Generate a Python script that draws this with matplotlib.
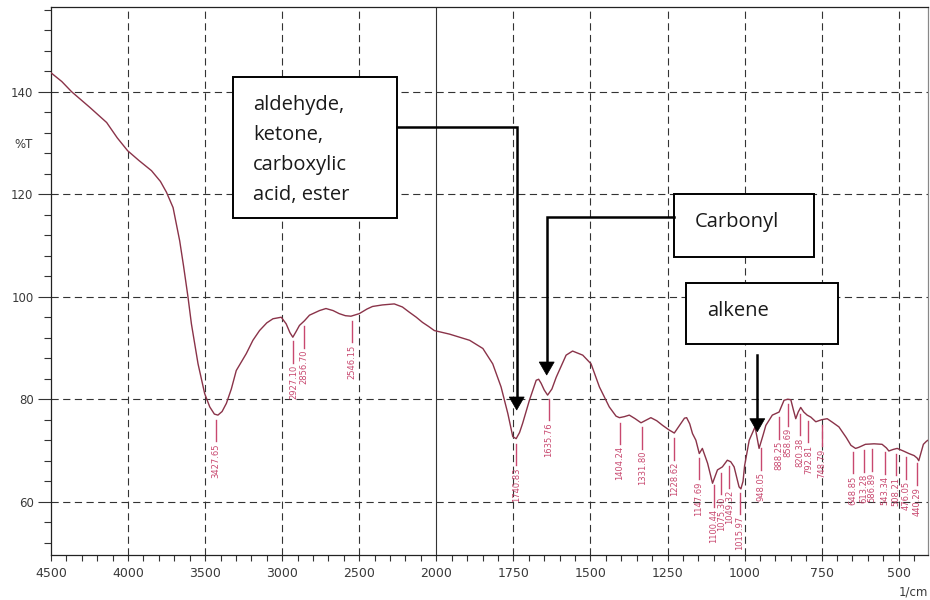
import numpy as np
import matplotlib
matplotlib.use("Agg")
import matplotlib.pyplot as plt
from matplotlib.patches import Rectangle, Polygon
from matplotlib.lines import Line2D
from matplotlib.ticker import FixedLocator, NullFormatter

# ---------------- data ----------------
wavenumber = [4500, 4430, 4366, 4250, 4139, 4070, 4003, 3930, 3848, 3790, 3751, 3708,
              3665, 3640, 3611, 3589, 3546, 3503, 3470, 3440, 3417, 3390, 3362, 3330,
              3298, 3233, 3190, 3147, 3100, 3060, 3006, 2974, 2950, 2931, 2910, 2888,
              2856, 2823, 2758, 2716, 2670, 2630, 2590, 2554, 2500, 2450, 2414, 2350,
              2273, 2220, 2176, 2130, 2090, 2050, 2013, 1957, 1892, 1849, 1817, 1790,
              1768, 1752, 1741, 1730, 1720, 1698, 1676, 1668, 1660, 1650, 1639, 1625,
              1611, 1579, 1558, 1525, 1498, 1471, 1439, 1417, 1406, 1390, 1374, 1355,
              1336, 1320, 1304, 1285, 1266, 1245, 1228, 1210, 1195, 1188, 1178, 1169,
              1158, 1147, 1137, 1120, 1104, 1088, 1072, 1056, 1045, 1034, 1018, 1012,
              1005, 1000, 985, 966, 953, 940, 931, 910, 888, 872, 860, 850, 842, 834,
              826, 818, 808, 797, 785, 769, 750, 732, 715, 694, 670, 655, 640, 630,
              608, 580, 554, 540, 532, 518, 505, 485, 467, 450, 440, 435, 428, 420,
              410, 405]
transmittance = [143.7, 142.0, 140.0, 137.0, 134.0, 131.0, 128.5, 126.6, 124.6, 122.5, 120.4, 117.4,
                 110.9, 106.0, 99.9, 94.7, 86.9, 81.1, 78.5, 77.1, 76.9, 77.6, 79.2, 82.0,
                 85.6, 88.9, 91.5, 93.4, 94.9, 95.7, 96.0, 94.7, 93.0, 92.1, 93.2, 94.4,
                 95.3, 96.4, 97.3, 97.7, 97.3, 96.7, 96.3, 96.2, 96.7, 97.6, 98.1, 98.4,
                 98.6, 98.0, 97.0, 96.0, 95.0, 94.2, 93.4, 92.7, 91.5, 89.9, 86.9, 82.4,
                 77.2, 72.7, 72.3, 73.5, 75.3, 79.8, 83.7, 83.9, 83.1, 81.8, 80.8, 82.0,
                 84.3, 88.6, 89.4, 88.6, 86.9, 82.4, 78.5, 76.7, 76.4, 76.6, 76.9, 76.2,
                 75.4, 75.9, 76.4, 75.8, 74.9, 74.0, 73.4, 75.0, 76.3, 76.4, 75.2, 73.3,
                 72.0, 69.4, 70.4, 67.5, 63.6, 66.2, 66.8, 68.1, 67.8, 66.8, 62.9, 62.5,
                 64.0, 67.0, 72.0, 74.6, 70.4, 73.0, 74.9, 76.9, 77.5, 79.8, 80.0, 79.9, 78.0, 76.2,
                 77.5, 78.4, 77.5, 76.9, 76.5, 75.6, 76.0, 76.2, 75.5, 74.6, 72.5, 71.0, 70.4, 70.6,
                 71.2, 71.3, 71.2, 70.5, 69.9, 70.2, 70.4, 69.9, 69.4, 69.0, 68.5, 68.0, 69.5, 71.2,
                 71.8, 72.0]

peak_wavenumbers = [3427.65, 2927.10, 2856.70, 2546.15, 1740.83, 1635.76, 1404.24, 1331.80,
                    1228.62, 1147.69, 1100.44, 1075.30, 1049.32, 1015.97, 948.05, 888.25,
                    858.69, 820.38, 792.81, 748.79, 648.85, 613.28, 586.89, 543.34,
                    508.21, 476.05, 440.29]
peak_labels = ["3427.65", "2927.10", "2856.70", "2546.15", "1740.83", "1635.76", "1404.24", "1331.80",
               "1228.62", "1147.69", "1100.44", "1075.30", "1049.32", "1015.97", "948.05", "888.25",
               "858.69", "820.38", "792.81", "748.79", "648.85", "613.28", "586.89", "543.34",
               "508.21", "476.05", "440.29"]

x_major_ticks = [4500, 4000, 3500, 3000, 2500, 2000, 1750, 1500, 1250, 1000, 750, 500]
x_grid_dashed = [4000, 3500, 3000, 2500, 1750, 1500, 1250, 1000, 750, 500]
y_major_ticks = [60, 80, 100, 120, 140]

box_group_text = ["aldehyde,", "ketone,", "carboxylic", "acid, ester"]
box_carbonyl_text = "Carbonyl"
box_alkene_text = "alkene"

# ---------------- styling ----------------
W, H = 930, 600
CURVE = "#8a3349"
PEAK = "#c8486f"
TXT = "#3a3a3a"


def fwd(w):
    w = np.asarray(w, dtype=float)
    return np.where(w > 2000, 2000 + (w - 2000) / 2.0, w)


def inv(u):
    u = np.asarray(u, dtype=float)
    return np.where(u > 2000, 2000 + (u - 2000) * 2.0, u)


def P(px, py):
    return (px / W, 1 - py / H)


fig = plt.figure(figsize=(W / 100, H / 100), dpi=100)
fig.patch.set_facecolor("white")
ax = fig.add_axes([51 / W, 1 - 555 / H, 877 / W, 548.3 / H])
ax.set_xscale("function", functions=(fwd, inv))
ax.set_xlim(4500, 405)
ax.set_ylim(49.6, 156.6)

# ticks
ax.xaxis.set_major_locator(FixedLocator(x_major_ticks))
ax.set_xticklabels([str(t) for t in x_major_ticks])
x_minor = [w for w in range(4400, 2000, -100) if w % 500] + [w for w in range(1950, 400, -50) if w % 250]
ax.xaxis.set_minor_locator(FixedLocator(x_minor))
ax.xaxis.set_minor_formatter(NullFormatter())
ax.yaxis.set_major_locator(FixedLocator(y_major_ticks))
y_minor = [v for v in range(52, 157, 4) if v % 20]
ax.yaxis.set_minor_locator(FixedLocator(y_minor))
ax.yaxis.set_minor_formatter(NullFormatter())

ax.tick_params(axis="x", which="both", direction="out", length=4.3, width=0.8,
               color="#333333", labelsize=9, labelcolor=TXT, pad=4)
ax.tick_params(axis="y", which="major", direction="out", length=9.4, width=0.8,
               color="#333333", labelsize=8.5, labelcolor=TXT, pad=3.2)
ax.tick_params(axis="y", which="minor", direction="out", length=5.4, width=0.8, color="#333333")
ax.tick_params(top=False, right=False)

for s in ["left", "bottom", "top"]:
    ax.spines[s].set_color("#222222")
    ax.spines[s].set_linewidth(0.9)
ax.spines["right"].set_color("#888888")
ax.spines["right"].set_linewidth(0.9)

# grid
dash = (0, (6.5, 4))
for g in x_grid_dashed:
    ax.axvline(g, color="#333333", lw=0.8, ls=dash, zorder=1)
for g in y_major_ticks:
    ax.axhline(g, color="#333333", lw=0.8, ls=dash, zorder=1)
ax.axvline(2000, color="#333333", lw=0.8, zorder=1)

# spectrum
ax.plot(wavenumber, transmittance, color=CURVE, lw=1.0, zorder=3)

# peak markers
wn_asc = np.array(wavenumber[::-1], dtype=float)
t_asc = np.array(transmittance[::-1], dtype=float)
for w, lab in zip(peak_wavenumbers, peak_labels):
    t = float(np.interp(w, wn_asc, t_asc))
    ax.plot([w, w], [t - 1.0, t - 5.2], color=PEAK, lw=1.0, zorder=3)
    ax.text(w, t - 5.6, lab, rotation=90, ha="center", va="top",
            fontsize=6, color=PEAK, zorder=3)

# axis labels
fig.text(*P(24, 144), "%T", ha="center", va="center", fontsize=8.5, color=TXT)
fig.text(*P(928, 592), "1/cm", ha="right", va="center", fontsize=8.5, color=TXT)

# ---------------- annotations (figure pixel layout) ----------------
def box(x0, y0, x1, y1):
    (fx0, fy1) = P(x0, y1)
    (fx1, fy0) = P(x1, y0)
    r = Rectangle((fx0, fy1), fx1 - fx0, fy0 - fy1, transform=fig.transFigure,
                  facecolor="white", edgecolor="black", lw=1.4, zorder=5)
    fig.add_artist(r)


def polyline(pts):
    xs = [P(*p)[0] for p in pts]
    ys = [P(*p)[1] for p in pts]
    fig.add_artist(Line2D(xs, ys, transform=fig.transFigure, color="black",
                          lw=1.8, zorder=6, solid_joinstyle="miter"))


def head(px, tip_y, hh=13, hw=7.5):
    tri = Polygon([P(px - hw, tip_y - hh), P(px + hw, tip_y - hh), P(px, tip_y)],
                  closed=True, transform=fig.transFigure, facecolor="black",
                  edgecolor="black", lw=0.5, zorder=7)
    fig.add_artist(tri)


FONT = ["Open Sans", "DejaVu Sans"]

# group box
box(233.3, 77.3, 396.7, 218.3)
for i, line in enumerate(box_group_text):
    fig.text(*P(253, 110 + 30 * i), line, ha="left", va="baseline",
             fontsize=14.5, family=FONT, color="#1a1a1a", zorder=8)
polyline([(396.7, 127.3), (516.7, 127.3), (516.7, 399)])
head(516.7, 410)

# carbonyl box
box(674.3, 194.3, 814.3, 257.3)
fig.text(*P(695, 226.7), box_carbonyl_text, ha="left", va="baseline",
         fontsize=14.5, family=FONT, color="#1a1a1a", zorder=8)
polyline([(674.3, 216.7), (546.7, 216.7), (546.7, 364)])
head(546.7, 375)

# alkene box
box(685.7, 283.3, 838.3, 344)
fig.text(*P(706.7, 316), box_alkene_text, ha="left", va="baseline",
         fontsize=14.5, family=FONT, color="#1a1a1a", zorder=8)
polyline([(757.3, 355), (757.3, 421)])
head(757.3, 431.7)

fig.savefig("out.png", dpi=100, facecolor="white")
